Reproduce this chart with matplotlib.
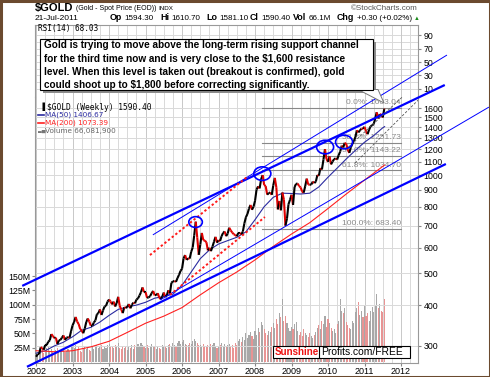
import numpy as np
import matplotlib
matplotlib.use("Agg")
import matplotlib.pyplot as plt
from matplotlib.collections import LineCollection
from matplotlib.patches import Rectangle, Polygon
from matplotlib.path import Path
from matplotlib.transforms import Affine2D

# ── data (semi-monthly: 1st / 15th of each month) ──
gold_2002 = [278, 283, 283, 297, 296, 292, 302, 302, 309, 312, 326, 322, 317, 318, 304, 312, 313, 318, 323, 313, 318, 319, 318, 333]
gold_2003 = [347, 355, 368, 356, 350, 338, 334, 328, 339, 355, 364, 356, 346, 346, 354, 359, 375, 378, 388, 373, 385, 396, 398, 410]
gold_2004 = [416, 410, 402, 410, 396, 406, 424, 398, 388, 378, 394, 392, 395, 403, 391, 401, 407, 405, 416, 419, 428, 438, 453, 438]
gold_2005 = [438, 421, 422, 426, 435, 442, 428, 428, 435, 422, 417, 425, 437, 423, 429, 444, 434, 468, 473, 474, 471, 484, 495, 509]
gold_2006 = [517, 556, 569, 550, 556, 555, 582, 600, 654, 720, 643, 570, 613, 665, 632, 630, 623, 588, 599, 585, 604, 625, 647, 621]
gold_2007 = [632, 628, 650, 665, 672, 650, 662, 690, 677, 667, 659, 655, 650, 665, 665, 658, 672, 712, 743, 760, 789, 810, 783, 800]
gold_2008 = [834, 903, 923, 910, 971, 1000, 933, 925, 871, 880, 885, 870, 930, 980, 918, 785, 833, 780, 884, 840, 700, 735, 814, 840]
gold_2009 = [870, 810, 919, 940, 942, 925, 916, 890, 883, 925, 975, 935, 934, 935, 955, 945, 955, 1000, 996, 1050, 1040, 1115, 1200, 1120]
gold_2010 = [1097, 1140, 1078, 1100, 1118, 1125, 1115, 1150, 1179, 1230, 1215, 1255, 1244, 1195, 1169, 1215, 1246, 1270, 1307, 1370, 1350, 1370, 1386, 1385]
gold_2011 = [1405, 1360, 1333, 1375, 1410, 1420, 1430, 1485, 1556, 1490, 1536, 1530, 1500, 1594, 1590.40]

# volume in millions
vol_2002 = [12, 18, 15, 20, 22, 16, 18, 24, 26, 20, 22, 18, 16, 21, 24, 19, 17, 22, 25, 18, 20, 23, 19, 26]
vol_2003 = [28, 24, 30, 22, 26, 20, 18, 24, 27, 22, 25, 21, 19, 26, 23, 28, 30, 24, 26, 29, 22, 27, 25, 30]
vol_2004 = [32, 26, 28, 24, 30, 27, 33, 25, 22, 28, 24, 26, 21, 27, 25, 29, 23, 30, 27, 32, 28, 34, 30, 26]
vol_2005 = [25, 29, 24, 27, 31, 26, 28, 23, 27, 25, 22, 30, 28, 26, 24, 29, 31, 27, 34, 30, 28, 33, 36, 31]
vol_2006 = [35, 38, 32, 30, 29, 34, 31, 37, 40, 36, 33, 30, 29, 27, 31, 28, 26, 30, 27, 32, 29, 33, 28, 25]
vol_2007 = [27, 30, 33, 28, 31, 26, 29, 32, 27, 30, 25, 33, 29, 36, 40, 35, 44, 38, 50, 42, 47, 53, 45, 40]
vol_2008 = [55, 48, 60, 52, 70, 64, 58, 50, 47, 55, 52, 62, 68, 60, 75, 66, 85, 78, 110, 72, 80, 68, 60, 55]
vol_2009 = [62, 58, 66, 70, 55, 48, 52, 45, 58, 50, 47, 44, 50, 46, 42, 48, 52, 60, 64, 58, 72, 66, 80, 62]
vol_2010 = [75, 68, 60, 55, 58, 50, 66, 72, 110, 90, 85, 95, 70, 65, 60, 58, 72, 68, 88, 95, 105, 82, 90, 78]
vol_2011 = [98, 80, 85, 72, 90, 96, 88, 100, 118, 95, 102, 90, 88, 85, 110]

# moving averages (quarterly / half-yearly readings, last = 21-Jul-2011)
ma50_vals = [285, 290, 300, 308, 320, 335, 342, 355, 372, 388, 395, 400, 408, 420, 425, 432,
             460, 505, 555, 590, 615, 630, 645, 670, 730, 800, 855, 880, 878, 875, 880, 920,
             985, 1050, 1120, 1190, 1260, 1320, 1395, 1406.67]
ma200_vals = [290, 288, 290, 298, 310, 330, 352, 370, 393, 430, 468, 505, 550, 605, 660, 715,
              790, 875, 965, 1073.39]

fib_levels = [1603.04, 1251.73, 1143.22, 1034.70, 683.40]
fib_names = ["0.0%", "38.2%", "50.0%", "61.8%", "100.0%"]

price_ticks = [300, 400, 500, 600, 700, 800, 900, 1000, 1100, 1200, 1300, 1400, 1500, 1600]
rsi_ticks = [10, 30, 50, 70, 90]
vol_ticks = [25, 50, 75, 100, 125, 150]
years = list(range(2002, 2013))

# hand-drawn annotations (year, price)
upper_thick = ([2001.62, 2013.2], [458, 1886])
upper_thin = ([2005.2, 2013.26], [656, 2329])
lower_thick = ([2001.75, 2013.23], [259, 1081])
lower_thin = ([2005.4, 2014.41], [415, 1614])
red_upper = ([2005.12, 2007.78], [569, 986])
red_lower = ([2005.67, 2008.27], [430, 744])
dash_a = ([2010.47, 2012.3], [1192, 1846])
dash_b = ([2010.74, 2012.47], [1088, 1696])
circle_x = [2006.37, 2008.2, 2009.92, 2010.44]
circle_y = [718, 1010, 1218, 1262]

NOTE = [
    "Gold is trying to move above the long-term rising support channel",
    "for the third time now and is very close to the $1,600 resistance",
    "level. When this level is taken out (breakout is confirmed), gold",
    "could shoot up to $1,800 before correcting significantly.",
]

prices = np.array(gold_2002 + gold_2003 + gold_2004 + gold_2005 + gold_2006 +
                  gold_2007 + gold_2008 + gold_2009 + gold_2010 + gold_2011)
volume = np.array(vol_2002 + vol_2003 + vol_2004 + vol_2005 + vol_2006 +
                  vol_2007 + vol_2008 + vol_2009 + vol_2010 + vol_2011)
dates = np.array([2002 + i / 24 for i in range(len(prices) - 1)] + [2011.551])
ma50_dates = [2002 + 0.25 * i for i in range(len(ma50_vals) - 1)] + [2011.551]
ma200_dates = [2002 + 0.5 * i for i in range(len(ma200_vals) - 1)] + [2011.551]

W, H = 490, 377
fig = plt.figure(figsize=(W / 100, H / 100), dpi=100)
fig.patch.set_facecolor("white")
plt.rcParams["font.family"] = ["Liberation Sans", "DejaVu Sans"]

L, R, TOP, MID, BOT = 35, 418, 25, 97, 363
ax_vol = fig.add_axes([L / W, 1 - BOT / H, (R - L) / W, (BOT - MID) / H])
ax = fig.add_axes([L / W, 1 - BOT / H, (R - L) / W, (BOT - MID) / H], sharex=ax_vol)
ax_rsi = fig.add_axes([L / W, 1 - MID / H, (R - L) / W, (MID - TOP) / H], sharex=ax_vol)
ax_vol.set_zorder(1)
ax_rsi.set_zorder(2)
ax.set_zorder(3)
ax.patch.set_visible(False)
ax_rsi.patch.set_visible(False)

gridc = "#d9d9d9"
quarters = np.arange(2002, 2012.5, 0.25)

# volume layer (bottom)
ax_vol.set_xlim(2001.97, 2012.466)
ax_vol.set_ylim(-1.7, 463)
up = np.r_[True, np.diff(prices) >= 0]
ax_vol.bar(dates, volume, width=0.03, color=np.where(up, "#a8a8a8", "#e89494"), linewidth=0)
ax_vol.set_yticks(vol_ticks)
ax_vol.set_yticklabels([f"{v}M" for v in vol_ticks])
ax_vol.tick_params(axis="y", labelsize=6.3, length=2, color="#888888", pad=1)
ax_vol.tick_params(axis="x", bottom=False, labelbottom=False)
for q in quarters:
    ax_vol.axvline(q, color="#c8c8c8" if q % 1 == 0 else gridc, lw=0.7, zorder=0)
for s in ax_vol.spines.values():
    s.set_visible(False)

# price layer
ax.set_yscale("log")
ax.set_ylim(266, 1733)
ax.yaxis.tick_right()
ax.yaxis.set_minor_locator(matplotlib.ticker.NullLocator())
ax.set_yticks(price_ticks)
ax.set_yticklabels([str(p) for p in price_ticks])
ax.tick_params(axis="y", labelsize=6.3, length=2, color="#888888", pad=2)
ax.set_xticks(years)
ax.set_xticklabels([str(y) for y in years])
ax.tick_params(axis="x", labelsize=6.5, length=2, color="#888888", pad=1)
for p in price_ticks:
    ax.axhline(p, color=gridc, lw=0.7, zorder=0)
for side in ["left", "right", "bottom"]:
    ax.spines[side].set_color("#999999")
    ax.spines[side].set_linewidth(0.8)
ax.spines["top"].set_visible(False)

pts = np.column_stack([dates, prices]).reshape(-1, 1, 2)
segs = np.concatenate([pts[:-1], pts[1:]], axis=1)
cols = np.where(np.diff(prices) >= 0, "black", "#e00000")
ax.add_collection(LineCollection(segs, colors=cols, linewidths=1.5, zorder=4))

ax.plot(ma50_dates, ma50_vals, color="#2a2aa0", lw=0.8, zorder=3)
ax.plot(ma200_dates, ma200_vals, color="#ff2020", lw=0.8, zorder=3)

for line, lw in [(upper_thick, 1.6), (lower_thick, 1.6), (upper_thin, 0.7), (lower_thin, 0.7)]:
    ax.plot(line[0], line[1], color="#0000ff", lw=lw, clip_on=False, zorder=5, solid_capstyle="butt")
for line in (red_upper, red_lower):
    ax.plot(line[0], line[1], color="#ff1a1a", lw=1.4, ls=(0, (1.2, 1.2)), zorder=5)
for line in (dash_a, dash_b):
    ax.plot(line[0], line[1], color="#555555", lw=0.6, ls=(0, (3, 2)), zorder=5)

oval = Path(Affine2D().scale(1.0, 0.8).transform_path(Path.unit_circle()).vertices,
            Path.unit_circle().codes)
ax.scatter(circle_x, circle_y, s=[95, 150, 150, 150], marker=oval, facecolors="none",
           edgecolors="#0000ff", linewidths=1.2, zorder=6)

for lvl, name in zip(fib_levels, fib_names):
    ax.plot([2008.19, 2012.0], [lvl, lvl], color="#888888", lw=0.8, zorder=2)
    ax.text(2012.0, lvl * 1.012, f"{name}: {lvl:.2f}", ha="right", va="bottom",
            fontsize=6, color="#8a8a8a", zorder=2)

# RSI panel (labels and grid only)
ax_rsi.set_ylim(-2, 105)
ax_rsi.yaxis.tick_right()
ax_rsi.set_yticks(rsi_ticks)
ax_rsi.tick_params(axis="y", labelsize=6.3, length=2, color="#888888", pad=2)
ax_rsi.tick_params(axis="x", bottom=False, labelbottom=False)
for r in range(10, 100, 10):
    ax_rsi.axhline(r, color=gridc, lw=0.7, zorder=0)
for q in quarters:
    ax_rsi.axvline(q, color="#c8c8c8" if q % 1 == 0 else gridc, lw=0.7, zorder=0)
for side in ["left", "right", "top"]:
    ax_rsi.spines[side].set_color("#999999")
    ax_rsi.spines[side].set_linewidth(0.8)
ax_rsi.spines["bottom"].set_visible(False)

# overlay in pixel coordinates for header, legend, note and watermark
ov = fig.add_axes([0, 0, 1, 1])
ov.set_zorder(10)
ov.axis("off")
ov.set_xlim(0, W)
ov.set_ylim(H, 0)

t1 = ov.text(35, 8, "$GOLD", fontsize=8, fontweight="bold", va="center")
t2 = ov.annotate("(Gold - Spot Price (EOD))", xy=(1, 0.5), xycoords=t1, xytext=(1.5, 0),
                 textcoords="offset points", fontsize=5, va="center")
ov.annotate("INDX", xy=(1, 0.5), xycoords=t2, xytext=(2, 0),
            textcoords="offset points", fontsize=4.5, va="center")
ov.text(418, 8, "\u00a9StockCharts.com", fontsize=5.8, color="#555555", ha="right", va="center")
ov.text(35, 18, "21-Jul-2011", fontsize=6, va="center")
header = [(110, "Op", "1594.30"), (160, "Hi", "1610.70"), (206, "Lo", "1581.10"),
          (250, "Cl", "1590.40"), (293, "Vol", "66.1M"), (337, "Chg", "+0.30 (+0.02%)")]
for x, lab, val in header:
    tl = ov.text(x, 18, lab, fontsize=6.4, fontweight="bold", va="center")
    ov.annotate(val, xy=(1, 0.5), xycoords=tl, xytext=(1.8, 0), textcoords="offset points",
                fontsize=5.8, va="center")
ov.text(414, 18.5, "\u25b2", fontsize=4.2, color="#1a8a1a", va="center")

ov.text(38, 28.5, "RSI(14) 68.03", fontsize=5.6, family="DejaVu Sans Mono", va="center")

ov.add_patch(Rectangle((42.5, 41.5), 333, 51, facecolor="#8c8c8c", edgecolor="none"))
ov.add_patch(Polygon([(358, 89.5), (378, 89.5), (384, 103)], closed=True,
                     facecolor="white", edgecolor="#777777", lw=0.7))
ov.add_patch(Rectangle((40, 39), 333, 51, facecolor="white", edgecolor="black", lw=0.8))
for i, line in enumerate(NOTE):
    ov.text(44, 45.5 + i * 13.3, line, fontsize=7.2, fontweight="bold", va="center")

ov.text(47, 107, "$GOLD (Weekly) 1590.40", fontsize=5.7, family="DejaVu Sans Mono", va="center")
ov.text(39, 107, "\u2590", fontsize=5, va="center")
ov.plot([38, 44], [114.5, 114.5], color="#2a2aa0", lw=1.2)
ov.text(45, 114.5, "MA(50) 1406.67", fontsize=5.2, family="DejaVu Sans", color="#2a2aa0", va="center")
ov.plot([38, 44], [122.5, 122.5], color="#ff2020", lw=1.2)
ov.text(45, 122.5, "MA(200) 1073.39", fontsize=5.2, family="DejaVu Sans", color="#ff2020", va="center")
ov.text(38, 130.5, "\u2583\u2585", fontsize=3.5, color="#777777", va="center")
ov.text(45, 130.5, "Volume 66,081,900", fontsize=5.2, family="DejaVu Sans", color="#666666", va="center")

ov.add_patch(Rectangle((273, 346), 137, 11.5, facecolor="white", edgecolor="black", lw=0.8))
ov.plot([319, 319], [346, 357.5], color="black", lw=0.8)
ov.text(274.5, 352, "Sunshine", fontsize=7.0, fontweight="bold", color="#ee1111", va="center")
ov.text(321, 352, "Profits.com/FREE", fontsize=7.4, color="black", va="center")

ov.add_patch(Rectangle((0.5, 0.5), W - 1, H - 1, fill=False, edgecolor="#6b4a2f", lw=2.2))

fig.savefig("out.png", dpi=100)
